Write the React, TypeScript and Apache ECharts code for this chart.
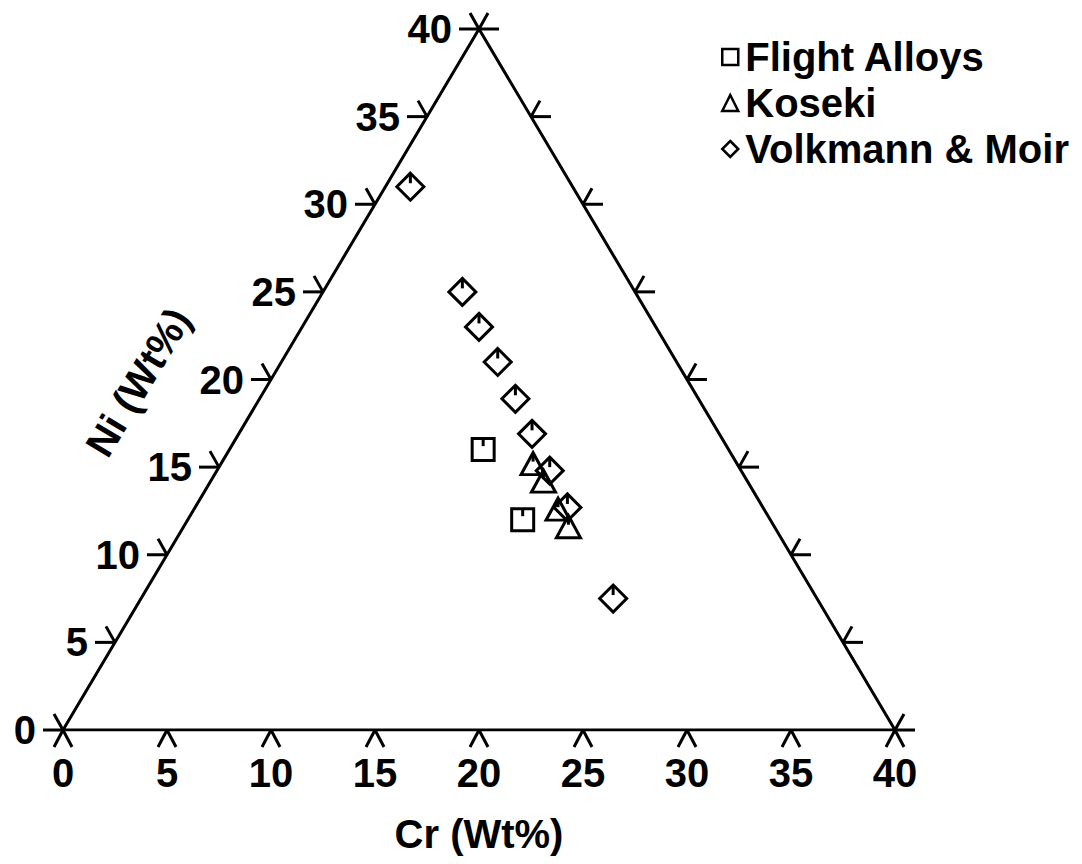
import React, { useEffect, useRef } from 'react';
import * as echarts from 'echarts';

const crTicks = [0, 5, 10, 15, 20, 25, 30, 35, 40];
const niTicks = [0, 5, 10, 15, 20, 25, 30, 35, 40];
const seriesNames = ['Flight Alloys', 'Koseki', 'Volkmann & Moir'];
const flightCr = [12.2, 16.1];
const flightNi = [16.0, 12.0];
const kosekiCr = [15.0, 16.0, 17.5, 18.5];
const kosekiNi = [15.2, 14.2, 12.6, 11.6];
const volkCr = [1.2, 6.7, 8.5, 10.4, 12.3, 14.1, 16.0, 17.9, 22.7];
const volkNi = [31.0, 25.0, 23.0, 21.0, 18.9, 16.9, 14.8, 12.7, 7.5];
const AXIS_MAX = 40;

const FONT = '"Liberation Sans", Arial, Helvetica, sans-serif';
const INK = '#000';
const FW = 'bold';

// ternary (Cr, Ni) -> cartesian (x, y) in axis units
const tern = (cr: number, ni: number) => [cr + ni / 2, ni];
const pts = (cr: number[], ni: number[]) => cr.map((c, i) => tern(c, ni[i]));

const lineEl = (x1: number, y1: number, x2: number, y2: number) => ({
  type: 'line',
  shape: { x1, y1, x2, y2 },
  style: { stroke: INK, lineWidth: 3 },
});

export default function App() {
  const ref = useRef<HTMLDivElement>(null);
  useEffect(() => {
    if (!ref.current) return;
    const chart = echarts.init(ref.current, undefined, { renderer: 'svg' });
    const markerStyle = { color: 'rgba(0,0,0,0)', borderColor: INK, borderWidth: 3, opacity: 1 };
    const markStyle = { color: INK, opacity: 1 };
    const option: any = {
      animation: false,
      backgroundColor: '#fff',
      grid: { left: 63, right: 187, top: 29, bottom: 134, containLabel: false },
      xAxis: {
        type: 'value', min: 0, max: AXIS_MAX, interval: 5,
        axisLine: { show: false }, axisTick: { show: false }, splitLine: { show: false },
        axisLabel: { fontSize: 40, fontWeight: FW, color: INK, margin: 23, fontFamily: FONT },
        name: 'Cr (Wt%)', nameLocation: 'middle', nameGap: 84,
        nameTextStyle: { fontSize: 40, fontWeight: FW, color: INK, fontFamily: FONT },
      },
      yAxis: { type: 'value', min: 0, max: AXIS_MAX, show: false },
      legend: {
        data: [
          { name: seriesNames[0], icon: 'rect' },
          { name: seriesNames[1], icon: 'triangle' },
          { name: seriesNames[2], icon: 'diamond' },
        ],
        orient: 'vertical', left: 716, top: 32,
        itemWidth: 16, itemHeight: 16, itemGap: 6,
        itemStyle: { color: 'rgba(0,0,0,0)', borderColor: INK, borderWidth: 2.5, opacity: 1 },
        textStyle: { fontSize: 40, fontWeight: FW, color: INK, fontFamily: FONT, padding: [0, 0, 0, 2] },
        selectedMode: false,
      },
      graphic: [
        {
          type: 'text', x: 138, y: 382, rotation: (59 * Math.PI) / 180,
          style: { text: 'Ni (Wt%)', fontSize: 40, fontWeight: FW, fontFamily: FONT, fill: INK, textAlign: 'center', textVerticalAlign: 'middle' },
        },
      ],
      series: [
        {
          type: 'line', name: 'edges', silent: true, symbol: 'none',
          data: [tern(0, 0), tern(AXIS_MAX, 0), tern(0, AXIS_MAX), tern(0, 0)],
          lineStyle: { color: INK, width: 3 },
        },
        {
          type: 'custom', name: 'bottomTicks', silent: true,
          data: crTicks.map((c) => tern(c, 0)),
          renderItem: (params: any, api: any) => {
            const p = api.coord([api.value(0), api.value(1)]);
            return { type: 'group', children: [lineEl(p[0], p[1], p[0] - 9, p[1] + 17), lineEl(p[0], p[1], p[0] + 9, p[1] + 17)] };
          },
        },
        {
          type: 'custom', name: 'leftTicks', silent: true,
          data: niTicks.map((n) => [...tern(0, n), n]),
          renderItem: (params: any, api: any) => {
            const p = api.coord([api.value(0), api.value(1)]);
            return {
              type: 'group',
              children: [
                lineEl(p[0], p[1], p[0] - 20, p[1]),
                lineEl(p[0], p[1], p[0] - 9, p[1] - 16),
                {
                  type: 'text', x: p[0] - 27, y: p[1],
                  style: { text: String(api.value(2)), fontSize: 40, fontWeight: FW, fontFamily: FONT, fill: INK, textAlign: 'right', textVerticalAlign: 'middle' },
                },
              ],
            };
          },
        },
        {
          type: 'custom', name: 'rightTicks', silent: true,
          data: niTicks.map((n) => tern(AXIS_MAX - n, n)),
          renderItem: (params: any, api: any) => {
            const p = api.coord([api.value(0), api.value(1)]);
            return { type: 'group', children: [lineEl(p[0], p[1], p[0] + 20, p[1]), lineEl(p[0], p[1], p[0] + 9, p[1] - 16)] };
          },
        },
        {
          type: 'scatter', name: seriesNames[0], symbol: 'rect', symbolSize: 22,
          data: pts(flightCr, flightNi), itemStyle: markerStyle,
        },
        {
          type: 'scatter', name: seriesNames[1], symbol: 'triangle', symbolSize: [24, 22],
          data: pts(kosekiCr, kosekiNi), itemStyle: markerStyle,
        },
        {
          type: 'scatter', name: seriesNames[2], symbol: 'diamond', symbolSize: 27,
          data: pts(volkCr, volkNi), itemStyle: markerStyle,
        },
        {
          type: 'scatter', name: 'm0', silent: true, symbol: 'rect', symbolSize: [3, 7], symbolOffset: [0, -7],
          data: pts(flightCr, flightNi), itemStyle: markStyle,
        },
        {
          type: 'scatter', name: 'm1', silent: true, symbol: 'rect', symbolSize: [3, 8], symbolOffset: [0, -6],
          data: pts(kosekiCr, kosekiNi), itemStyle: markStyle,
        },
        {
          type: 'scatter', name: 'm2', silent: true, symbol: 'rect', symbolSize: [3, 9], symbolOffset: [0, -8],
          data: pts(volkCr, volkNi), itemStyle: markStyle,
        },
      ],
    };
    chart.setOption(option);
    return () => chart.dispose();
  }, []);
  return <div ref={ref} style={{ position: 'absolute', left: 0, top: 0, width: 1082, height: 864 }} />;
}
